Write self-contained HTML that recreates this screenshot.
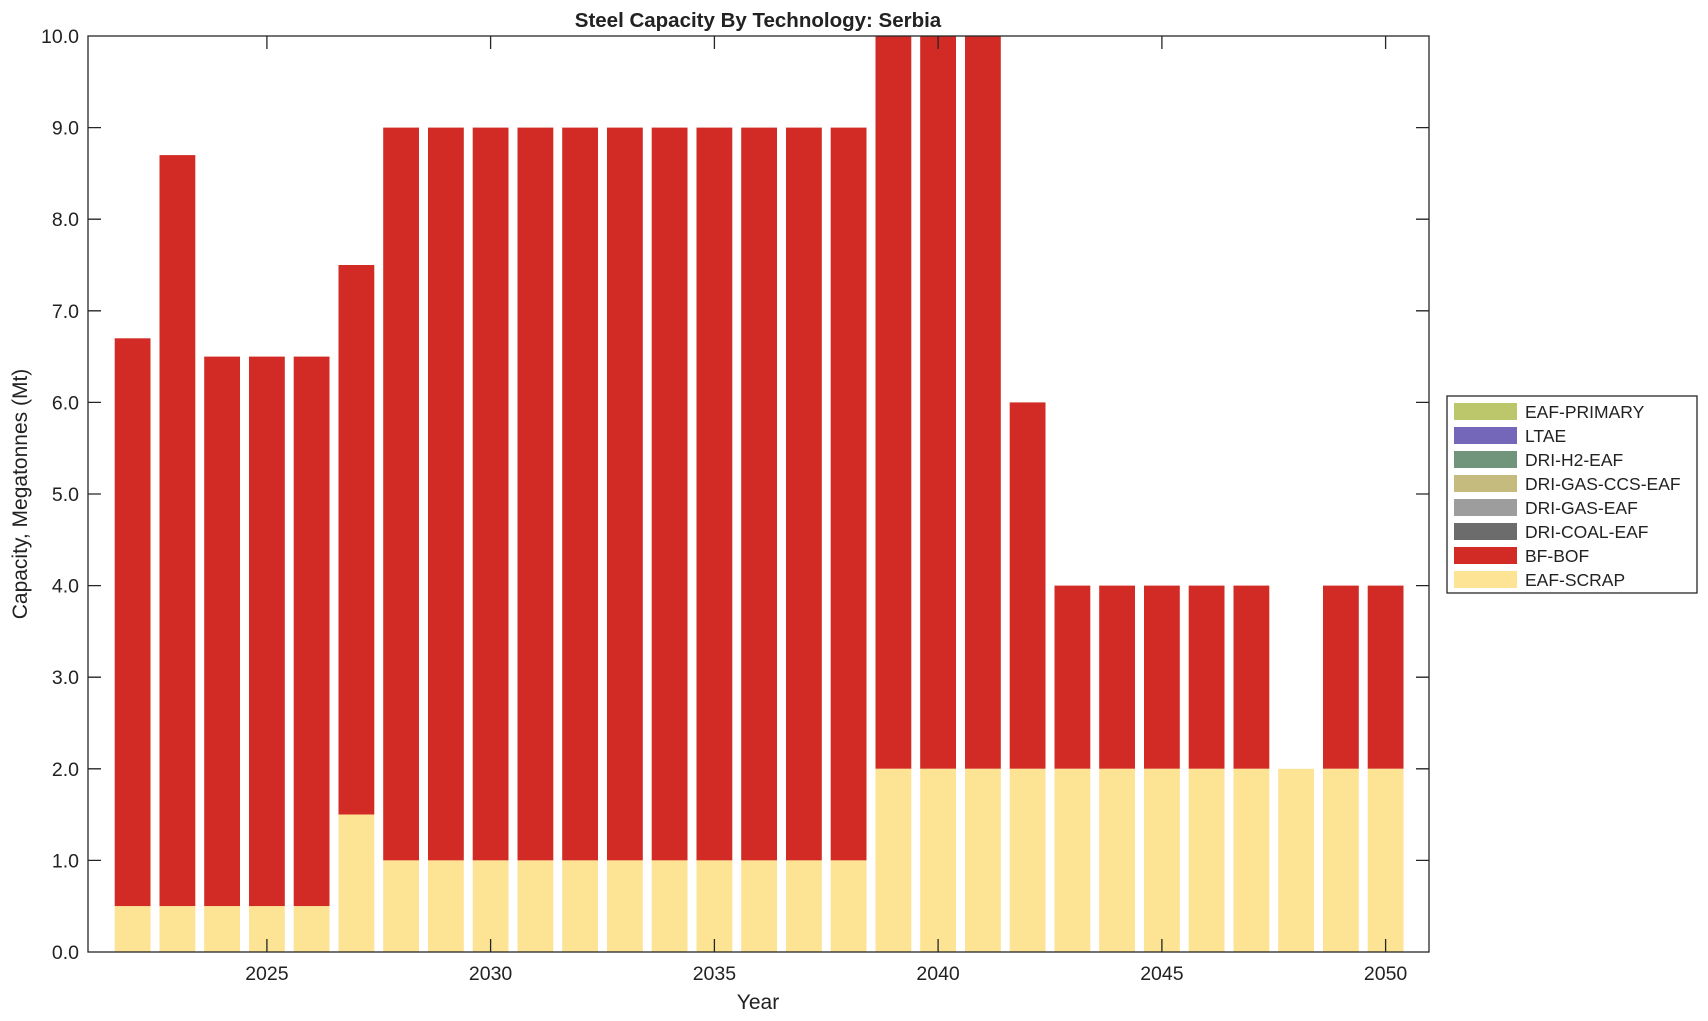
<!DOCTYPE html>
<html><head><meta charset="utf-8"><style>body{margin:0;background:#fff}svg{display:block}text{font-family:"Liberation Sans",Arial,sans-serif;fill:#222}</style></head><body>
<svg width="1708" height="1021" viewBox="0 0 1708 1021" xmlns="http://www.w3.org/2000/svg">
<g fill="#d22b25">
<rect x="114.7" y="338.3" width="35.8" height="567.9"/>
<rect x="159.5" y="155.1" width="35.8" height="751.1"/>
<rect x="204.2" y="356.6" width="35.8" height="549.6"/>
<rect x="249.0" y="356.6" width="35.8" height="549.6"/>
<rect x="293.7" y="356.6" width="35.8" height="549.6"/>
<rect x="338.5" y="265" width="35.8" height="549.6"/>
<rect x="383.2" y="127.6" width="35.8" height="732.8"/>
<rect x="428.0" y="127.6" width="35.8" height="732.8"/>
<rect x="472.7" y="127.6" width="35.8" height="732.8"/>
<rect x="517.5" y="127.6" width="35.8" height="732.8"/>
<rect x="562.2" y="127.6" width="35.8" height="732.8"/>
<rect x="607.0" y="127.6" width="35.8" height="732.8"/>
<rect x="651.7" y="127.6" width="35.8" height="732.8"/>
<rect x="696.5" y="127.6" width="35.8" height="732.8"/>
<rect x="741.2" y="127.6" width="35.8" height="732.8"/>
<rect x="786.0" y="127.6" width="35.8" height="732.8"/>
<rect x="830.7" y="127.6" width="35.8" height="732.8"/>
<rect x="875.5" y="36" width="35.8" height="732.8"/>
<rect x="920.2" y="36" width="35.8" height="732.8"/>
<rect x="965.0" y="36" width="35.8" height="732.8"/>
<rect x="1009.7" y="402.4" width="35.8" height="366.4"/>
<rect x="1054.5" y="585.6" width="35.8" height="183.2"/>
<rect x="1099.2" y="585.6" width="35.8" height="183.2"/>
<rect x="1144.0" y="585.6" width="35.8" height="183.2"/>
<rect x="1188.7" y="585.6" width="35.8" height="183.2"/>
<rect x="1233.5" y="585.6" width="35.8" height="183.2"/>
<rect x="1323.0" y="585.6" width="35.8" height="183.2"/>
<rect x="1367.7" y="585.6" width="35.8" height="183.2"/>
</g>
<g fill="#fde394">
<rect x="114.7" y="906.2" width="35.8" height="45.8"/>
<rect x="159.5" y="906.2" width="35.8" height="45.8"/>
<rect x="204.2" y="906.2" width="35.8" height="45.8"/>
<rect x="249.0" y="906.2" width="35.8" height="45.8"/>
<rect x="293.7" y="906.2" width="35.8" height="45.8"/>
<rect x="338.5" y="814.6" width="35.8" height="137.4"/>
<rect x="383.2" y="860.4" width="35.8" height="91.6"/>
<rect x="428.0" y="860.4" width="35.8" height="91.6"/>
<rect x="472.7" y="860.4" width="35.8" height="91.6"/>
<rect x="517.5" y="860.4" width="35.8" height="91.6"/>
<rect x="562.2" y="860.4" width="35.8" height="91.6"/>
<rect x="607.0" y="860.4" width="35.8" height="91.6"/>
<rect x="651.7" y="860.4" width="35.8" height="91.6"/>
<rect x="696.5" y="860.4" width="35.8" height="91.6"/>
<rect x="741.2" y="860.4" width="35.8" height="91.6"/>
<rect x="786.0" y="860.4" width="35.8" height="91.6"/>
<rect x="830.7" y="860.4" width="35.8" height="91.6"/>
<rect x="875.5" y="768.8" width="35.8" height="183.2"/>
<rect x="920.2" y="768.8" width="35.8" height="183.2"/>
<rect x="965.0" y="768.8" width="35.8" height="183.2"/>
<rect x="1009.7" y="768.8" width="35.8" height="183.2"/>
<rect x="1054.5" y="768.8" width="35.8" height="183.2"/>
<rect x="1099.2" y="768.8" width="35.8" height="183.2"/>
<rect x="1144.0" y="768.8" width="35.8" height="183.2"/>
<rect x="1188.7" y="768.8" width="35.8" height="183.2"/>
<rect x="1233.5" y="768.8" width="35.8" height="183.2"/>
<rect x="1278.2" y="768.8" width="35.8" height="183.2"/>
<rect x="1323.0" y="768.8" width="35.8" height="183.2"/>
<rect x="1367.7" y="768.8" width="35.8" height="183.2"/>
</g>
<g stroke="#262626" stroke-width="1.3" fill="none">
<rect x="88" y="36" width="1341" height="916"/>
<path d="M88 860.4h13M88 768.8h13M88 677.2h13M88 585.6h13M88 494h13M88 402.4h13M88 310.8h13M88 219.2h13M88 127.6h13
M1429 860.4h-13M1429 768.8h-13M1429 677.2h-13M1429 585.6h-13M1429 494h-13M1429 402.4h-13M1429 310.8h-13M1429 219.2h-13M1429 127.6h-13
M266.9 952v-13M490.6 952v-13M714.4 952v-13M938.1 952v-13M1161.9 952v-13M1385.6 952v-13
M266.9 36v13M490.6 36v13M714.4 36v13M938.1 36v13M1161.9 36v13M1385.6 36v13"/>
</g>
<g font-size="19.5" text-anchor="end">
<text x="79" y="959">0.0</text><text x="79" y="867.4">1.0</text><text x="79" y="775.8">2.0</text><text x="79" y="684.2">3.0</text><text x="79" y="592.6">4.0</text><text x="79" y="501">5.0</text><text x="79" y="409.4">6.0</text><text x="79" y="317.8">7.0</text><text x="79" y="226.2">8.0</text><text x="79" y="134.6">9.0</text><text x="79" y="43">10.0</text>
</g>
<g font-size="19.5" text-anchor="middle">
<text x="266.9" y="980">2025</text><text x="490.6" y="980">2030</text><text x="714.4" y="980">2035</text><text x="938.1" y="980">2040</text><text x="1161.9" y="980">2045</text><text x="1385.6" y="980">2050</text>
<text x="758" y="1009" font-size="21">Year</text>
<text x="758" y="27" font-size="20.5" font-weight="bold" fill="#000">Steel Capacity By Technology: Serbia</text>
<text transform="translate(27 494) rotate(-90)" font-size="21">Capacity, Megatonnes (Mt)</text>
</g>
<rect x="1447" y="396" width="250" height="197" fill="#fff" stroke="#262626" stroke-width="1.3"/>
<g>
<rect x="1454" y="403" width="63" height="17" fill="#bcc66a"/>
<rect x="1454" y="427" width="63" height="17" fill="#7467b9"/>
<rect x="1454" y="451" width="63" height="17" fill="#70957a"/>
<rect x="1454" y="475" width="63" height="17" fill="#c6bb7e"/>
<rect x="1454" y="499" width="63" height="17" fill="#9d9d9d"/>
<rect x="1454" y="523" width="63" height="17" fill="#6c6c6c"/>
<rect x="1454" y="547" width="63" height="17" fill="#d22b25"/>
<rect x="1454" y="571" width="63" height="17" fill="#fde394"/>
</g>
<g font-size="17.5" fill="#000">
<text x="1525" y="418">EAF-PRIMARY</text>
<text x="1525" y="442">LTAE</text>
<text x="1525" y="466">DRI-H2-EAF</text>
<text x="1525" y="490">DRI-GAS-CCS-EAF</text>
<text x="1525" y="514">DRI-GAS-EAF</text>
<text x="1525" y="538">DRI-COAL-EAF</text>
<text x="1525" y="562">BF-BOF</text>
<text x="1525" y="586">EAF-SCRAP</text>
</g>
</svg>
</body></html>
